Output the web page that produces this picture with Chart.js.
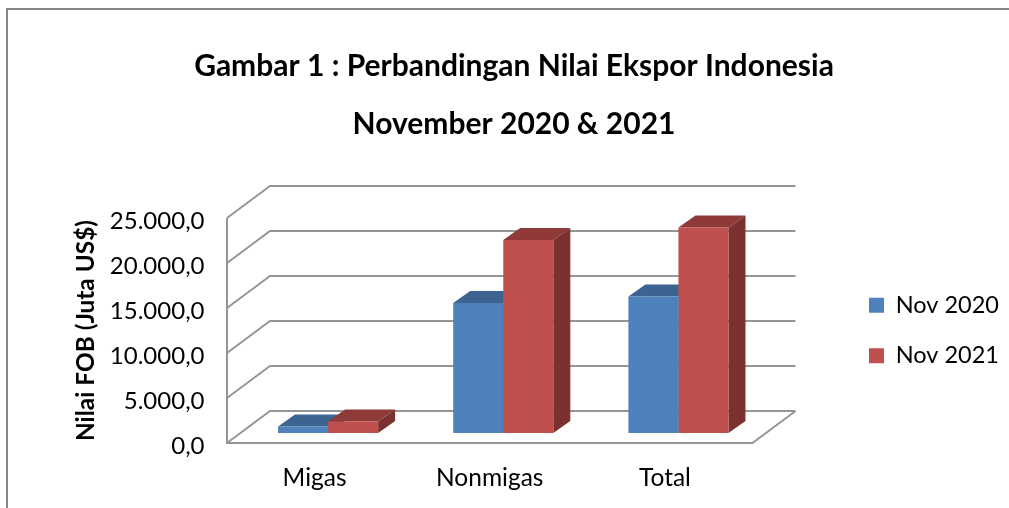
<!DOCTYPE html>
<html>
<head>
<meta charset="utf-8">
<style>
    html, body { margin: 0; padding: 0; background: #fff; overflow: hidden; }
    #wrap { position: absolute; left: 0; top: 0; width: 1028px; height: 508px; }
</style>
<script src="https://cdn.jsdelivr.net/npm/chart.js@4"></script>
</head>
<body>
<div id="wrap"><canvas id="eksporChart" width="1028" height="508"></canvas></div>
<script>
const titleLines = ['Gambar 1 : Perbandingan Nilai Ekspor Indonesia', 'November 2020 & 2021'];
const categories = ['Migas', 'Nonmigas', 'Total'];
const seriesNames = ['Nov 2020', 'Nov 2021'];
const nov2020 = [720, 14450, 15170];
const nov2021 = [1280, 21450, 22840];
const axisTitle = 'Nilai FOB (Juta US$)';
const fontName = 'Lato, "Open Sans", sans-serif';

// the 3D look: how far the back wall and the bar depth are shifted
const wallDx = 43, wallDy = 32;
const barDx = 17, barDy = 12;
const barPlaneDx = 13.5;

const shade = [
    { front: '#4F81BD', top: '#3D6390', side: '#34557D' },
    { front: '#C0504D', top: '#8F3A38', side: '#7B312F' }
];

function formatTick(v) {
    return v.toLocaleString('de-DE', { minimumFractionDigits: 1, maximumFractionDigits: 1 });
}

const frame3d = {
    id: 'frame3d',
    afterLayout(chart) {
        // legend sits away from the plot, title centres on the whole canvas
        chart.legend.left = 842;
        chart.legend.right = chart.width;
        chart.titleBlock.left = 0;
        chart.titleBlock.right = chart.width;
    },
    beforeDraw(chart) {
        const ctx = chart.ctx;
        ctx.save();
        ctx.strokeStyle = '#868686';
        ctx.lineWidth = 2;
        ctx.beginPath();
        ctx.moveTo(7, 508);
        ctx.lineTo(7, 9);
        ctx.lineTo(chart.width, 9);
        ctx.stroke();
        ctx.restore();
    },
    beforeDatasetsDraw(chart) {
        const ctx = chart.ctx, yAxis = chart.scales.y, area = chart.chartArea;
        const left = area.left - barPlaneDx, right = area.right - barPlaneDx;
        const bottom = yAxis.getPixelForValue(0), top = yAxis.getPixelForValue(25000);
        ctx.save();
        ctx.strokeStyle = '#959595';
        ctx.lineWidth = 2;
        ctx.beginPath();
        yAxis.ticks.forEach(t => {
            const py = yAxis.getPixelForValue(t.value);
            ctx.moveTo(left, py);
            ctx.lineTo(left + wallDx, py - wallDy);
            ctx.lineTo(right + wallDx, py - wallDy);
        });
        ctx.moveTo(left, top);
        ctx.lineTo(left, bottom);
        ctx.lineTo(right, bottom);
        ctx.lineTo(right + wallDx, bottom - wallDy);
        ctx.stroke();

        // bar tops and sides, the fronts are the real bars drawn after this
        chart.data.datasets.forEach((ds, i) => {
            chart.getDatasetMeta(i).data.forEach(bar => {
                const l = bar.x - bar.width / 2, r = bar.x + bar.width / 2;
                ctx.fillStyle = shade[i].top;
                ctx.beginPath();
                ctx.moveTo(l, bar.y);
                ctx.lineTo(l + barDx, bar.y - barDy);
                ctx.lineTo(r + barDx, bar.y - barDy);
                ctx.lineTo(r, bar.y);
                ctx.closePath();
                ctx.fill();
                ctx.fillStyle = shade[i].side;
                ctx.beginPath();
                ctx.moveTo(r, bar.y);
                ctx.lineTo(r + barDx, bar.y - barDy);
                ctx.lineTo(r + barDx, bar.base - barDy);
                ctx.lineTo(r, bar.base);
                ctx.closePath();
                ctx.fill();
            });
        });
        ctx.restore();
    }
};

new Chart(document.getElementById('eksporChart').getContext('2d'), {
    type: 'bar',
    data: {
        labels: categories,
        datasets: [
            { label: seriesNames[0], data: nov2020, backgroundColor: shade[0].front, yAxisID: 'yBars' },
            { label: seriesNames[1], data: nov2021, backgroundColor: shade[1].front, yAxisID: 'yBars' }
        ]
    },
    options: {
        responsive: false,
        animation: false,
        layout: { padding: { right: 95 } },
        datasets: { bar: { categoryPercentage: 100 / 175, barPercentage: 1 } },
        plugins: {
            title: {
                display: true,
                text: titleLines,
                color: '#000',
                font: { family: fontName, size: 30, weight: 'bold', lineHeight: 58 / 30 },
                padding: { top: 37, bottom: 65 }
            },
            legend: {
                position: 'right',
                fullSize: false,
                labels: {
                    boxWidth: 15,
                    boxHeight: 15,
                    padding: 27,
                    color: '#000',
                    font: { family: fontName, size: 23.5 }
                }
            },
            tooltip: { enabled: false }
        },
        scales: {
            x: {
                grid: { display: false, drawTicks: false },
                border: { display: false },
                afterFit: s => { s.height = 65; },
                ticks: { color: '#000', padding: 20, labelOffset: -barPlaneDx, font: { family: fontName, size: 24.5 } }
            },
            y: {
                min: 0,
                max: 25000,
                position: 'left',
                afterFit: s => { s.width = 240.5; },
                grid: { display: false, drawTicks: false },
                border: { display: false },
                ticks: { stepSize: 5000, color: '#000', padding: 36, labelOffset: 3, callback: formatTick, font: { family: fontName, size: 24 } },
                title: {
                    display: true,
                    text: axisTitle,
                    color: '#000',
                    padding: { top: 72, bottom: 0 },
                    font: { family: fontName, size: 24.4, weight: 'bold' }
                }
            },
            // bars stand 10px behind the front edge of the floor
            yBars: { display: false, min: -1111, max: 23889 }
        }
    },
    plugins: [frame3d]
});
</script>
</body>
</html>
